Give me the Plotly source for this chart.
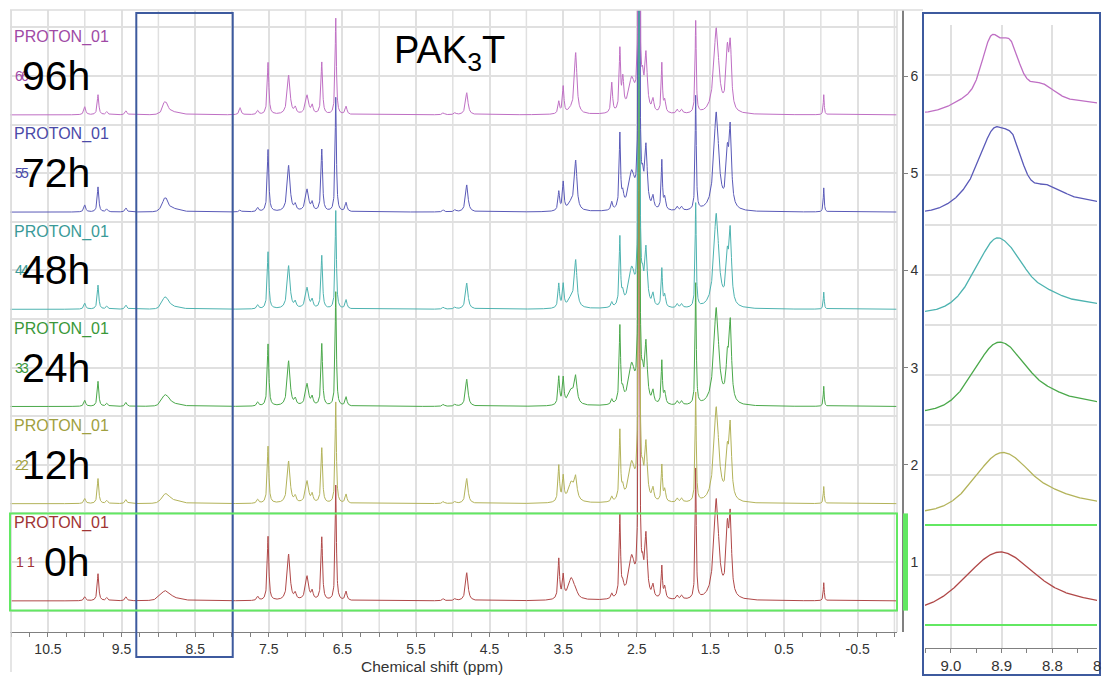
import numpy as np
import plotly.graph_objects as go

# ---------------------------------------------------------------- data
SAMPLES = ["0h", "12h", "24h", "48h", "72h", "96h"]
STACK_POS = [1, 2, 3, 4, 5, 6]
SPEC_INDEX = ["1", "2", "3", "4", "5", "6"]
LINE_COLORS = ["#b04848", "#b3b35a", "#4aa84a", "#4db3b0", "#5a5ab8", "#bf6fc4"]
LABEL_COLORS = ["#a03434", "#a0a040", "#3a983a", "#3a9a98", "#4a4aa8", "#a04aa6"]

# peak table: chemical shift (ppm), line width (ppm)
PEAK_PPM = [10.00, 9.82, 9.70, 9.44, 7.89, 7.65, 7.51, 7.23, 7.14, 6.98,
            6.91, 6.78, 6.59, 6.45, 5.13, 4.97, 4.81, 3.56, 3.50, 3.33,
            3.39, 2.84, 2.73, 2.69, 2.57, 2.47, 2.42, 2.375, 2.28, 2.16,
            2.12, 1.95, 1.89, 1.70, 1.42, 1.27, 1.23, -0.04]
PEAK_FWHM = [0.03, 0.025, 0.03, 0.03, 0.03, 0.03, 0.025, 0.045, 0.03, 0.05,
             0.03, 0.025, 0.02, 0.03, 0.03, 0.03, 0.04, 0.025, 0.025, 0.04,
             0.10, 0.025, 0.022, 0.03, 0.10, 0.015, 0.03, 0.04, 0.03, 0.02,
             0.03, 0.03, 0.03, 0.018, 0.08, 0.04, 0.04, 0.015]

# peak intensities for each time point (same order as PEAK_PPM)
HEIGHTS_0H = [4, 27, 3, 4, 0, 4, 64, 46, 6, 24, 8, 63, 115, 9, 2, 2, 28, 40, 22, 5,
              22, 5, 81, 10, 41, 650, 20, 60, 12, 32, 12, 4, 4, 130, 100, 60, 75, 18]
HEIGHTS_12H = [5, 25, 3, 4, 0, 4, 57, 42, 6, 22, 8, 55, 101, 9, 2, 2, 25, 36, 24, 20,
               20, 5, 69, 10, 38, 650, 18, 55, 12, 36, 12, 4, 4, 109, 95, 41, 71, 17]
HEIGHTS_24H = [6, 25, 3, 4, 0, 4, 62, 45, 6, 22, 8, 62, 114, 9, 2, 2, 27, 28, 26, 25,
               15, 5, 76, 10, 39, 650, 18, 58, 12, 43, 12, 4, 4, 121, 97, 37, 77, 20]
HEIGHTS_48H = [6, 24, 3, 4, 0, 4, 57, 43, 6, 21, 8, 53, 98, 9, 2, 2, 26, 24, 23, 45,
               10, 5, 68, 10, 38, 650, 18, 55, 12, 38, 12, 4, 4, 104, 94, 42, 71, 17]
HEIGHTS_72H = [7, 25, 3, 4, 2, 4, 62, 46, 6, 22, 8, 62, 114, 9, 2, 2, 27, 19, 28, 48,
               8, 8, 74, 12, 37, 650, 20, 60, 12, 49, 12, 4, 4, 114, 98, 47, 76, 24]
HEIGHTS_96H = [8, 20, 3, 4, 7, 4, 52, 39, 6, 19, 8, 52, 96, 8, 2, 2, 22, 12, 27, 60,
               4, 30, 60, 30, 33, 650, 22, 55, 12, 49, 12, 4, 4, 92, 85, 54, 62, 20]

# broad NH band near 8.9 ppm: (ppm, intensity, line width)
NH_BAND_0H = [(8.905, 9.7, 0.16), (8.74, 1.8, 0.22)]
NH_BAND_12H = [(8.905, 9.0, 0.12), (8.86, 1.3, 0.08), (8.80, 1.1, 0.08), (8.74, 1.9, 0.20)]
NH_BAND_24H = [(8.912, 10.3, 0.11), (8.865, 2.3, 0.08), (8.805, 1.3, 0.08), (8.74, 1.8, 0.20)]
NH_BAND_48H = [(8.913, 9.7, 0.08), (8.87, 4.0, 0.07), (8.815, 1.9, 0.08), (8.96, 1.9, 0.08),
               (8.74, 1.6, 0.20)]
NH_BAND_72H = [(8.915, 11.6, 0.065), (8.876, 6.8, 0.045), (8.815, 2.9, 0.08), (8.965, 2.3, 0.08),
               (8.74, 1.9, 0.20)]
NH_BAND_96H = [(8.921, 9.9, 0.045), (8.883, 9.0, 0.045), (8.825, 3.4, 0.07), (8.965, 1.9, 0.08),
               (8.74, 1.8, 0.20)]

HEIGHTS = [HEIGHTS_0H, HEIGHTS_12H, HEIGHTS_24H, HEIGHTS_48H, HEIGHTS_72H, HEIGHTS_96H]
NH_BANDS = [NH_BAND_0H, NH_BAND_12H, NH_BAND_24H, NH_BAND_48H, NH_BAND_72H, NH_BAND_96H]

MAIN_TICKS = [10.5, 9.5, 8.5, 7.5, 6.5, 5.5, 4.5, 3.5, 2.5, 1.5, 0.5, -0.5]
INSET_TICKS = [9.0, 8.9, 8.8]

INTENSITY_PER_STEP = 97.0   # intensity that spans one stacking step
STACK_SHIFT = -0.4          # baseline of each spectrum relative to its stack number
INSET_GAIN = 6.0            # vertical expansion of the NH band panel
NH_LORENTZ_FRACTION = 0.35  # pseudo-Voigt mixing for the exchange-broadened NH band

# ---------------------------------------------------------------- helpers
W, H = 1102, 679


def px(xp):
    return xp / W


def py(yp):
    return 1 - yp / H


def lorentz(grid, x0, h, fwhm):
    return h / (1.0 + ((grid - x0) / (fwhm / 2.0)) ** 2)


def pseudo_voigt(grid, x0, h, fwhm, eta):
    gauss = np.exp(-4.0 * np.log(2.0) * ((grid - x0) / fwhm) ** 2)
    lor = 1.0 / (1.0 + 4.0 * ((grid - x0) / fwhm) ** 2)
    return h * (eta * lor + (1.0 - eta) * gauss)


def spectrum(grid, heights, band):
    y = np.zeros_like(grid)
    for p, w, h in zip(PEAK_PPM, PEAK_FWHM, heights):
        if h:
            y += lorentz(grid, p, h, w)
    for p, h, w in band:
        y += pseudo_voigt(grid, p, h, w, NH_LORENTZ_FRACTION)
    return y


FONT = "Liberation Sans, Arial, sans-serif"
GRID = "#e0e0e0"
AXIS = "#808080"

fig = go.Figure()

main_grid = np.round(np.arange(-1.04, 11.02, 0.002), 4)
inset_grid = np.round(np.arange(8.70, 9.06, 0.0005), 5)

for i, name in enumerate(SAMPLES):
    base = STACK_POS[i] + STACK_SHIFT
    y_main = base + spectrum(main_grid, HEIGHTS[i], NH_BANDS[i]) / INTENSITY_PER_STEP
    fig.add_trace(go.Scatter(x=main_grid, y=y_main, mode="lines", name=name,
                             line=dict(color=LINE_COLORS[i], width=1),
                             xaxis="x", yaxis="y", showlegend=False, hoverinfo="skip"))
for i, name in enumerate(SAMPLES):
    base = STACK_POS[i] + STACK_SHIFT
    y_in = base + INSET_GAIN * spectrum(inset_grid, HEIGHTS[i], NH_BANDS[i]) / INTENSITY_PER_STEP
    fig.add_trace(go.Scatter(x=inset_grid, y=y_in, mode="lines", name=name,
                             line=dict(color=LINE_COLORS[i], width=1.3),
                             xaxis="x2", yaxis="y2", showlegend=False, hoverinfo="skip"))

quarter_ticks = [round(v, 2) for v in np.arange(-1.0, 11.01, 0.25)
                 if round(v, 2) not in MAIN_TICKS]
integer_grid = list(range(-1, 12))

fig.update_layout(
    width=W, height=H,
    margin=dict(l=0, r=0, t=0, b=0),
    paper_bgcolor="white", plot_bgcolor="white",
    font=dict(family=FONT, color="#333333"),
    xaxis=dict(domain=[px(10), px(897)], range=[11.016, -1.035], anchor="y",
               tickmode="array", tickvals=MAIN_TICKS,
               ticktext=[f"{v:.1f}" for v in MAIN_TICKS],
               showgrid=True, gridcolor=GRID, gridwidth=1.5, zeroline=False,
               showline=True, linecolor=AXIS, linewidth=1,
               ticks="outside", ticklen=4, tickcolor=AXIS,
               minor=dict(tickmode="array", tickvals=quarter_ticks, ticks="outside",
                          ticklen=4, tickcolor=AXIS, showgrid=False),
               tickfont=dict(size=14, color="#333333")),
    yaxis=dict(domain=[py(632), py(10)], range=[0.280, 6.679], anchor="free",
               position=px(903), side="right",
               tickmode="array", tickvals=STACK_POS, ticktext=SPEC_INDEX,
               showgrid=True, gridcolor=GRID, gridwidth=1.5, zeroline=False,
               showline=True, linecolor=AXIS, linewidth=1.5,
               ticks="outside", ticklen=4, tickcolor=AXIS,
               minor=dict(tickmode="linear", tick0=0, dtick=0.5, showgrid=True,
                          gridcolor=GRID, gridwidth=1.5, ticks=""),
               tickfont=dict(size=14, color="#333333")),
    xaxis2=dict(domain=[px(925), px(1097)], range=[9.051, 8.712], anchor="y2",
                tickmode="array", tickvals=INSET_TICKS,
                ticktext=[f"{v:.1f}" for v in INSET_TICKS],
                showgrid=True, gridcolor=GRID, gridwidth=1.5, zeroline=False,
                showline=True, linecolor=AXIS, linewidth=1,
                ticks="outside", ticklen=4, tickcolor=AXIS,
                minor=dict(tickmode="linear", tick0=0, dtick=0.05, ticks="outside",
                           ticklen=4, tickcolor=AXIS, showgrid=False),
                tickfont=dict(size=15, color="#333333")),
    yaxis2=dict(domain=[py(648), py(25)], range=[0.27, 6.5], anchor="x2",
                tickmode="linear", tick0=0, dtick=0.5, showticklabels=False,
                showgrid=True, gridcolor=GRID, gridwidth=1.5, zeroline=False,
                ticks=""),
)

BOX_BLUE = "#3d5a9e"
SEL_GREEN = "#62e862"
shapes = [
    # whole-ppm grid lines of the stacked plot
    *[dict(type="line", xref="x", yref="y domain", x0=v, x1=v, y0=0, y1=1, layer="below",
           line=dict(color=GRID, width=1.5)) for v in integer_grid],
    # light frame of the stacked plot
    dict(type="line", xref="paper", yref="paper", x0=px(10), x1=px(923), y0=py(10), y1=py(10),
         line=dict(color="#dcdcdc", width=1.5)),
    dict(type="line", xref="paper", yref="paper", x0=px(11), x1=px(11), y0=py(10), y1=py(672),
         line=dict(color="#dcdcdc", width=1.5)),
    dict(type="line", xref="paper", yref="paper", x0=px(897), x1=px(897), y0=py(10), y1=py(632),
         line=dict(color="#dcdcdc", width=1.5)),
    # NH region marker on the stacked plot
    dict(type="rect", xref="x", yref="paper", x0=9.30, x1=7.99, y0=py(657), y1=py(13),
         line=dict(color=BOX_BLUE, width=2)),
    # frame of the expanded panel
    dict(type="rect", xref="paper", yref="paper", x0=px(923), x1=px(1100), y0=py(675), y1=py(13),
         line=dict(color=BOX_BLUE, width=2)),
    # selected spectrum
    dict(type="rect", xref="paper", yref="y", x0=px(10), x1=px(897), y0=0.5, y1=1.5,
         line=dict(color=SEL_GREEN, width=2)),
    dict(type="rect", xref="paper", yref="y", x0=px(903), x1=px(908), y0=0.5, y1=1.5,
         fillcolor=SEL_GREEN, line=dict(width=0)),
    dict(type="line", xref="x2 domain", yref="y2", x0=0, x1=1, y0=1.5, y1=1.5,
         line=dict(color=SEL_GREEN, width=2)),
    dict(type="line", xref="x2 domain", yref="y2", x0=0, x1=1, y0=0.5, y1=0.5,
         line=dict(color=SEL_GREEN, width=2)),
]
fig.update_layout(shapes=shapes)

annotations = []
for i, name in enumerate(SAMPLES):
    k = STACK_POS[i]
    annotations.append(dict(text="PROTON_01", xref="paper", yref="y", x=px(12), y=k + 0.4,
                            xanchor="left", yanchor="middle", showarrow=False,
                            font=dict(size=16, color=LABEL_COLORS[i], family=FONT)))
    offs = (19.5, 30.5) if k == 1 else (18.5, 24.5)
    for xo in offs:
        annotations.append(dict(text=SPEC_INDEX[i], xref="paper", yref="y", x=px(xo), y=k,
                                xanchor="center", yanchor="middle", showarrow=False,
                                font=dict(size=14, color=LABEL_COLORS[i], family=FONT)))
    annotations.append(dict(text=name, xref="paper", yref="y", x=px(92), y=k,
                            xanchor="right", yanchor="middle", showarrow=False,
                            font=dict(size=41, color="black", family=FONT)))

annotations += [
    dict(text="PAK<sub>3</sub>T", xref="paper", yref="paper", x=px(449), y=py(53),
         xanchor="center", yanchor="middle", showarrow=False,
         font=dict(size=38, color="black", family=FONT)),
    dict(text="Chemical shift (ppm)", xref="paper", yref="paper", x=px(432), y=py(666),
         xanchor="center", yanchor="middle", showarrow=False,
         font=dict(size=15.5, color="#333333", family=FONT)),
    dict(text="8.7", xref="paper", yref="paper", x=px(1103), y=py(665),
         xanchor="center", yanchor="middle", showarrow=False,
         font=dict(size=15, color="#333333", family=FONT)),
]
fig.update_layout(annotations=annotations)

fig.write_html("out.html")
